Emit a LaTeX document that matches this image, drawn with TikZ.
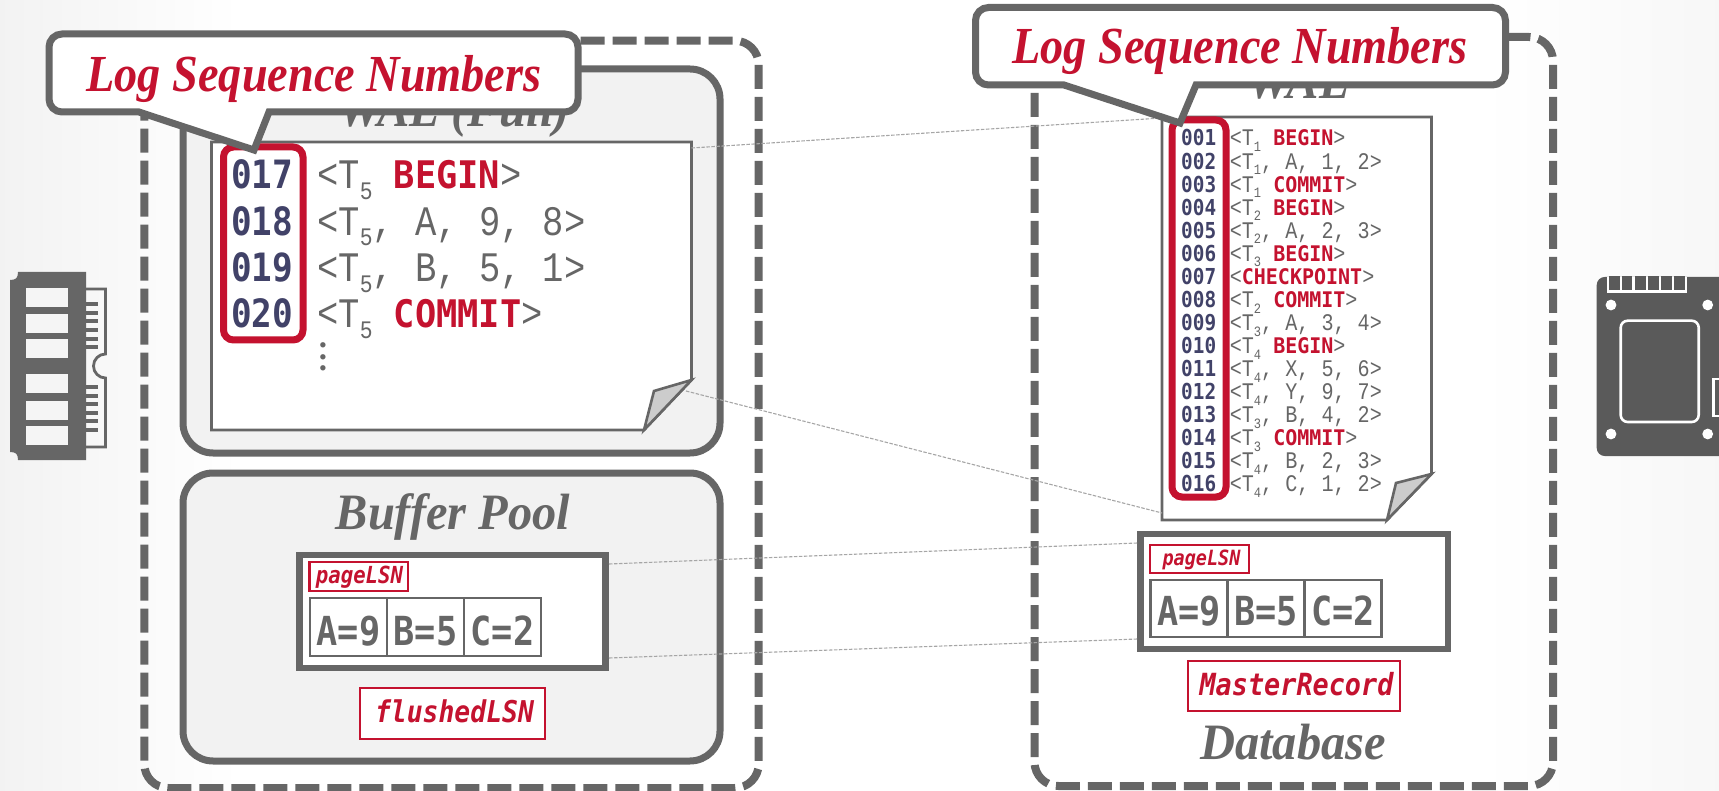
\documentclass[tikz,border=0pt]{standalone}
\usepackage{graphicx}
\usepackage{fontspec}
\usetikzlibrary{shadings}
\setmainfont{Liberation Serif}
\newfontfamily\headfont[FakeStretch=0.95]{Liberation Serif}
\newfontfamily\callfont[FakeStretch=0.89]{Liberation Serif}
\newfontfamily\numfont[FakeStretch=0.88]{DejaVu Sans Mono}
\newfontfamily\kwfont[FakeStretch=0.93]{DejaVu Sans Mono}
\newfontfamily\logfont[FakeStretch=0.845]{Liberation Mono}
\newfontfamily\lsnfont[FakeStretch=0.88]{DejaVu Sans Mono}
\definecolor{ink}{HTML}{666666}
\definecolor{crim}{HTML}{C4122F}
\definecolor{navy}{HTML}{414268}
\definecolor{chip}{HTML}{5A5A5A}
\newcommand{\fsz}[1]{\fontsize{#1}{#1}\selectfont}
\newcommand{\Tsub}[1]{<T\raisebox{-.24em}{\scalebox{.6}{#1}}}
\newcommand{\kw}[1]{{\color{crim}\kwfont\bfseries\fsz{\kwsize}#1}}
\tikzset{
  dashbox/.style={draw=ink,line width=8pt,dash pattern=on 24pt off 8pt,rounded corners=24pt},
  panel/.style={draw=ink,line width=7pt,fill=black!5,rounded corners=30pt},
  paper/.style={draw=ink,line width=2.6pt,fill=white,line join=miter},
  fold/.style={draw=ink,line width=2.6pt,fill=black!20,line join=miter},
  redbox/.style={draw=crim,line width=7pt,rounded corners=10pt},
  callout/.style={draw=ink,line width=7pt,fill=white,line join=miter},
  calltext/.style={text=crim,font=\callfont\fsz{52}\bfseries\itshape,inner sep=0pt,anchor=base},
  headtext/.style={text=ink,font=\headfont\fsz{51}\bfseries\itshape,inner sep=0pt,anchor=base},
  pagebox/.style={draw=ink,line width=6.5pt,fill=white,inner sep=0pt,outer sep=0pt,anchor=north west},
  lsnbox/.style={draw=crim,fill=white,line width=2.6pt,inner sep=0pt,outer sep=0pt,anchor=north west},
  lsntext/.style={text=crim,inner sep=0pt,anchor=base,font=\lsnfont\bfseries\itshape},
  cell/.style={draw=ink,line width=2.6pt,inner sep=0pt,outer sep=0pt,anchor=north west},
  celltext/.style={text=ink,inner sep=0pt,anchor=base,font=\numfont\bfseries\fsz{40}},
  lognumbig/.style={text=navy,inner sep=0pt,anchor=base west,font=\numfont\bfseries\fsz{39}},
  logtxtbig/.style={text=ink,inner sep=0pt,anchor=base west,font=\def\kwsize{38}\logfont\fsz{42}},
  lognumsmall/.style={text=navy,inner sep=0pt,anchor=base west,font=\numfont\bfseries\fsz{22}},
  logtxtsmall/.style={text=ink,inner sep=0pt,anchor=base west,font=\def\kwsize{21.5}\logfont\fsz{23.8}},
  link/.style={draw=black!35,line width=1.1pt,dash pattern=on 3.5pt off 1.5pt},
}
\begin{document}
\begin{tikzpicture}[x=1pt,y=-1pt]
\path[use as bounding box] (0,0) rectangle (1719,791);
% background
\shade[left color=black!5,right color=white,draw=none] (0,0) rectangle (240,791);
\shade[left color=white,right color=black!3,draw=none] (1480,0) rectangle (1719,791);

% containers
\draw[dashbox] (144.3,40.7) rectangle (758.7,788);
\draw[dashbox] (1034.5,37) rectangle (1553,786);
\draw[panel] (183,69) rectangle (720,453);
\draw[panel] (183,473) rectangle (720,761);

% RAM icon
\fill[ink] (18,272) -- (86,272) -- (86,460) -- (18,460) .. controls (18,454) and (16,452) .. (10,452) -- (10,280) .. controls (16,280) and (18,278) .. (18,272) -- cycle;
\foreach \ya/\yb in {288/307,314/333,339/358,374/393,401/420,426/445}
  \fill[white!96!black] (25.7,\ya) rectangle (68.3,\yb);
\draw[ink,line width=2.8pt] (86,289) -- (105.5,289) -- (105.5,354) arc[start angle=270,end angle=90,radius=12] -- (105.5,447) -- (86,447);
\foreach \yy in {303.7,312.7,321.3,330,338.7,347.3,386.7,395.7,404.3,412.7,421.3,430}
  \fill[ink] (86,\yy-2) rectangle (98.3,\yy+2);

% SSD icon
\begin{scope}
\clip (1590,270) rectangle (1719,460);
\fill[chip,rounded corners=8pt] (1596.7,277) rectangle (1740,456);
\fill[white] (1606.7,277) rectangle (1686.7,292.7);
\foreach \xx in {1609,1621.7,1635,1648,1661,1674}
  \fill[chip] (\xx,276) rectangle (\xx+10.5,290);
\foreach \xx/\yy in {1611/305,1707.7/305,1611/434,1707.7/434}
  \fill[white] (\xx,\yy) circle[radius=5.4];
\draw[white,line width=2.6pt,rounded corners=7pt] (1620.7,320.7) rectangle (1698.7,422);
\draw[white,line width=2.4pt] (1730,379) -- (1713.5,379) -- (1713.5,416) -- (1730,416);
\end{scope}

% left WAL
\node[headtext] (walfull) at (454,127) {WAL (Full)};
\draw[paper] (211.5,142) -- (691.5,142) -- (691.5,380) -- (644,430) -- (211.5,430) -- cycle;
\draw[fold] (691.5,380) -- (654,391) -- (644,430) -- cycle;
\coordinate (ltop) at (691.5,148);
\coordinate (lbot) at (686,391);
\node[lognumbig] (a17) at (231,189) {017};
\node[lognumbig] (a18) at (231,235.5) {018};
\node[lognumbig] (a19) at (231,282) {019};
\node[lognumbig] (a20) at (231,328) {020};
\node[logtxtbig] (b17) at (317,189) {\Tsub{5}\ \kw{BEGIN}>};
\node[logtxtbig] (b18) at (317,235.5) {\Tsub{5},\ A,\ 9,\ 8>};
\node[logtxtbig] (b19) at (317,282) {\Tsub{5},\ B,\ 5,\ 1>};
\node[logtxtbig] (b20) at (317,328) {\Tsub{5}\ \kw{COMMIT}>};
\node[text=ink,inner sep=0pt,font=\bfseries\fsz{33}] (more) at (323,357) {\vbox{\baselineskip=11.3pt \lineskiplimit=-100pt \hbox{.}\hbox{.}\hbox{.}}};
\draw[redbox] (223.5,147) rectangle (303,340);

% buffer pool
\node[headtext] (bp) at (453,529) {Buffer Pool};
\node[pagebox,minimum width=306pt,minimum height=113pt] (pl) at (299.5,555) {};
\node[lsnbox,minimum width=98.5pt,minimum height=29pt] (lsnl) at (309.5,562) {};
\node[lsntext] (lsnlt) at (359.5,583) {\fsz{23.5}pageLSN};
\node[cell,minimum width=77pt,minimum height=58pt] (c1) at (310,598) {};
\node[cell,minimum width=77pt,minimum height=58pt] (c2) at (387,598) {};
\node[cell,minimum width=77pt,minimum height=58pt] (c3) at (464,598) {};
\node[celltext] (t1) at (348.5,645) {A=9};
\node[celltext] (t2) at (425.5,645) {B=5};
\node[celltext] (t3) at (502.5,645) {C=2};
\node[lsnbox,minimum width=185pt,minimum height=51pt] (fl) at (360,688) {};
\node[lsntext] (flt) at (454.5,722) {\fsz{30}flushedLSN};

% right WAL
\node[headtext] (wal) at (1298,99) {WAL};
\draw[paper] (1162,117) -- (1431.5,117) -- (1431.5,474) -- (1387,520) -- (1162,520) -- cycle;
\draw[fold] (1431.5,474) -- (1396,483) -- (1387,520) -- cycle;
\coordinate (rtop) at (1162,118);
\coordinate (rbot) at (1162,513);
\foreach \n/\t [count=\i from 0] in {
 001/{\Tsub{1}\ \kw{BEGIN}>},
 002/{\Tsub{1},\ A,\ 1,\ 2>},
 003/{\Tsub{1}\ \kw{COMMIT}>},
 004/{\Tsub{2}\ \kw{BEGIN}>},
 005/{\Tsub{2},\ A,\ 2,\ 3>},
 006/{\Tsub{3}\ \kw{BEGIN}>},
 007/{<\kw{CHECKPOINT}>},
 008/{\Tsub{2}\ \kw{COMMIT}>},
 009/{\Tsub{3},\ A,\ 3,\ 4>},
 010/{\Tsub{4}\ \kw{BEGIN}>},
 011/{\Tsub{4},\ X,\ 5,\ 6>},
 012/{\Tsub{4},\ Y,\ 9,\ 7>},
 013/{\Tsub{3},\ B,\ 4,\ 2>},
 014/{\Tsub{3}\ \kw{COMMIT}>},
 015/{\Tsub{4},\ B,\ 2,\ 3>},
 016/{\Tsub{4},\ C,\ 1,\ 2>}} {
  \node[lognumsmall] (n\n) at (1181,146+23.05*\i) {\n};
  \node[logtxtsmall] (r\n) at (1229.6,146+23.05*\i) {\t};
}
\draw[redbox] (1172,120) rectangle (1226,497);

% disk page
\node[pagebox,minimum width=307.5pt,minimum height=115pt] (pr) at (1140.5,534) {};
\node[lsnbox,minimum width=99pt,minimum height=28pt] (lsnr) at (1150,545) {};
\node[lsntext] (lsnrt) at (1201.5,565) {\fsz{21}pageLSN};
\node[cell,minimum width=77pt,minimum height=57pt] (d1) at (1150.5,580) {};
\node[cell,minimum width=77pt,minimum height=57pt] (d2) at (1227.5,580) {};
\node[cell,minimum width=77pt,minimum height=57pt] (d3) at (1304.5,580) {};
\node[celltext] (u1) at (1189,625.5) {A=9};
\node[celltext] (u2) at (1266,625.5) {B=5};
\node[celltext] (u3) at (1343,625.5) {C=2};
\node[lsnbox,minimum width=212pt,minimum height=50pt] (mr) at (1188,661) {};
\node[lsntext] (mrt) at (1296.5,695) {\fsz{30.5}MasterRecord};
\node[headtext] (db) at (1293,759) {Database};

% links
\coordinate (pla) at (609,564);
\coordinate (plb) at (609,658);
\coordinate (pra) at (1137.5,543);
\coordinate (prb) at (1137.5,639);
\draw[link] (ltop) -- (rtop);
\draw[link] (lbot) -- (rbot);
\draw[link] (pla) -- (pra);
\draw[link] (plb) -- (prb);

% callouts
\draw[callout] (139,112) [rounded corners=13pt] -- (49,112) -- (49,34) -- (578,34) -- (578,112) [sharp corners] -- (269,112) -- (254,150) -- cycle;
\node[calltext] (cl) at (314,91.5) {Log Sequence Numbers};
\draw[callout] (1064,85) [rounded corners=13pt] -- (975.5,85) -- (975.5,7.5) -- (1505.5,7.5) -- (1505.5,85) [sharp corners] -- (1196,85) -- (1180,123) -- cycle;
\node[calltext] (cr) at (1240,64) {Log Sequence Numbers};
\end{tikzpicture}
\end{document}
